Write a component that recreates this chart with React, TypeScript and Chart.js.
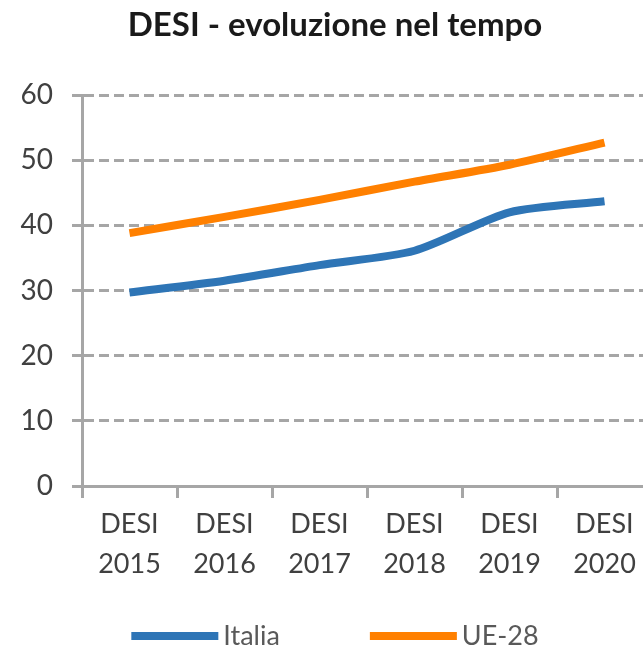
import React, { useEffect, useRef } from "react";
import { Chart, registerables } from "chart.js";

Chart.register(...registerables);

const TITLE = "DESI - evoluzione nel tempo";
const PREFIX = "DESI";
const YEARS = ["2015", "2016", "2017", "2018", "2019", "2020"];
const ITALIA = [29.7, 31.5, 33.9, 36.1, 42.0, 43.7];
const UE28 = [38.8, 41.3, 43.9, 46.7, 49.3, 52.7];
const SERIES_NAMES = ["Italia", "UE-28"];
const Y_TICKS = [0, 10, 20, 30, 40, 50, 60];

const FONT = "Lato, 'Liberation Sans', sans-serif";
const GRID = "#A6A6A6";

const legendPlugin = {
  id: "bottomLegend",
  afterDraw(chart: any) {
    const ctx = chart.ctx;
    const ds = chart.data.datasets;
    const boxW = 87;
    const boxH = 8;
    const textGap = 5;
    const itemGap = 90;
    ctx.save();
    ctx.font = `27px ${FONT}`;
    const widths = ds.map((d: any) => boxW + textGap + ctx.measureText(d.label).width);
    const total = widths.reduce((a: number, b: number) => a + b, 0) + itemGap * (ds.length - 1);
    let x = chart.width / 2 - total / 2;
    const y = chart.height - 10;
    ds.forEach((d: any, i: number) => {
      ctx.fillStyle = d.borderColor;
      ctx.fillRect(x, y - boxH / 2, boxW, boxH);
      ctx.fillStyle = "#595959";
      ctx.textAlign = "left";
      ctx.textBaseline = "middle";
      ctx.fillText(d.label, x + boxW + textGap, y);
      x += widths[i] + itemGap;
    });
    ctx.restore();
  },
};

export default function App() {
  const ref = useRef<HTMLCanvasElement>(null);

  useEffect(() => {
    if (!ref.current) return;
    const chart = new Chart(ref.current, {
      type: "line",
      data: {
        labels: YEARS.map((y) => [PREFIX, y]),
        datasets: [
          {
            label: SERIES_NAMES[0],
            data: ITALIA,
            borderColor: "#2E75B6",
            backgroundColor: "#2E75B6",
            borderWidth: 8,
            pointRadius: 0,
            tension: 0.25,
            borderJoinStyle: "round",
          },
          {
            label: SERIES_NAMES[1],
            data: UE28,
            borderColor: "#FF8000",
            backgroundColor: "#FF8000",
            borderWidth: 8,
            pointRadius: 0,
            tension: 0.25,
            borderJoinStyle: "round",
          },
        ],
      },
      options: {
        responsive: false,
        animation: false,
        layout: { padding: { left: 18, right: 18, top: 0, bottom: 50 } },
        plugins: {
          legend: { display: false },
          tooltip: { enabled: false },
          title: {
            display: true,
            text: TITLE,
            color: "#1a1a1a",
            font: { family: FONT, size: 33, weight: "bold" },
            padding: { top: 6, bottom: 49.4 },
          },
        },
        scales: {
          x: {
            type: "category",
            offset: true,
            grid: {
              display: true,
              offset: true,
              drawOnChartArea: false,
              drawTicks: true,
              tickLength: 12,
              color: GRID,
              lineWidth: 3,
            },
            border: { display: true, color: GRID, width: 3 },
            ticks: {
              color: "#404040",
              font: { family: FONT, size: 27, lineHeight: 1.48 },
              padding: 6,
              maxRotation: 0,
              autoSkip: false,
            },
            afterFit: (s: any) => {
              s.height = 110;
            },
          },
          y: {
            min: Y_TICKS[0],
            max: Y_TICKS[Y_TICKS.length - 1],
            afterBuildTicks: (s: any) => {
              s.ticks = Y_TICKS.map((v) => ({ value: v }));
            },
            grid: {
              color: GRID,
              lineWidth: 3,
              tickLength: 10,
              tickBorderDash: [10, 5],
            },
            border: { display: true, color: GRID, width: 3, dash: [10, 5] },
            ticks: {
              color: "#404040",
              font: { family: FONT, size: 28 },
              padding: 19,
            },
            afterFit: (s: any) => {
              s.width = 64;
            },
          },
        },
      },
      plugins: [legendPlugin],
    });
    return () => chart.destroy();
  }, []);

  return (
    <div
      style={{
        position: "fixed",
        left: 0,
        top: 0,
        width: 643,
        height: 646,
        overflow: "hidden",
        background: "#ffffff",
      }}
    >
      <canvas ref={ref} width={670} height={646} style={{ display: "block" }} />
    </div>
  );
}
